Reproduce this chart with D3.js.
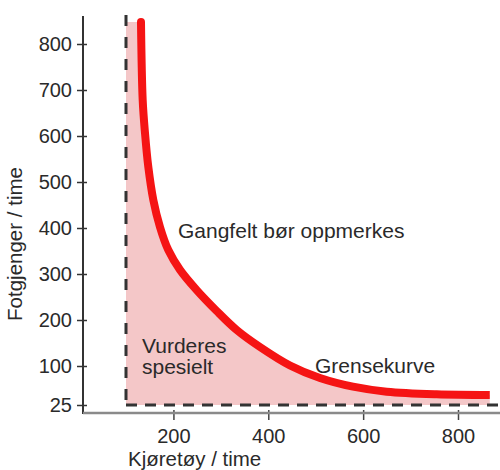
<!DOCTYPE html>
<html>
<head>
<meta charset="utf-8">
<script src="https://cdn.jsdelivr.net/npm/d3@7"></script>
<style>
  html, body { margin: 0; padding: 0; background: #fff; }
  svg { display: block; }
  text { font-family: "Liberation Sans", Arial, Helvetica, sans-serif; fill: #2a2a2a; }
</style>
</head>
<body>
<svg id="chart" width="500" height="470"></svg>
<script>
// ---- data ----
const curveX = [131.6, 135.2, 140.1, 147.0, 157.6, 171.7, 189.2, 213.9, 249.1, 291.2, 333.4, 382.5, 445.8, 509.0, 578.6, 649.7, 755.1, 867];
const curveY = [848, 678, 606, 533, 461, 402, 352, 309, 265, 219.6, 178.3, 141.3, 101.1, 76.9, 60.2, 50.6, 45.6, 44.2];
const xTicks = [200, 400, 600, 800];
const yTicks = [25, 100, 200, 300, 400, 500, 600, 700, 800];
const minVehicles = 100;
const minPedestrians = 25;
const labelAbove = "Gangfelt bør oppmerkes";
const labelBelow = ["Vurderes", "spesielt"];
const labelCurve = "Grensekurve";
const xTitle = "Kjøretøy / time";
const yTitle = "Fotgjenger / time";

// ---- layout ----
const svg = d3.select("#chart");
const axisX0 = 83, axisY0 = 413;
const x = d3.scaleLinear().domain([100, 800]).range([126, 458]);
const y = d3.scaleLinear().domain([25, 100, 800]).range([405, 366, 44]);

const pts = curveX.map((v, i) => [v, curveY[i]]);
const line = d3.line().x(d => x(d[0])).y(d => y(d[1])).curve(d3.curveCatmullRom.alpha(0.5));
const curvePath = line(pts);

// fill region
const last = pts[pts.length - 1];
const fillPath = "M" + x(minVehicles) + "," + y(pts[0][1]) + "L" + curvePath.slice(1) +
  "L" + x(last[0]) + "," + y(minPedestrians) + "L" + x(minVehicles) + "," + y(minPedestrians) + "Z";
svg.append("path").attr("d", fillPath).attr("fill", "#f4c7c8");

// dashed limits
svg.append("line")
  .attr("x1", x(minVehicles)).attr("x2", x(minVehicles))
  .attr("y1", 15).attr("y2", y(minPedestrians))
  .attr("stroke", "#333").attr("stroke-width", 3).attr("stroke-dasharray", "11,11");
svg.append("line")
  .attr("x1", x(minVehicles)).attr("x2", 500)
  .attr("y1", y(minPedestrians)).attr("y2", y(minPedestrians))
  .attr("stroke", "#333").attr("stroke-width", 3).attr("stroke-dasharray", "11,8");

// axes
const gy = svg.append("g").attr("transform", `translate(${axisX0},0)`)
  .call(d3.axisLeft(y).tickValues(yTicks).tickSize(6).tickPadding(5).tickFormat(d3.format("d")));
gy.select(".domain").remove();
gy.selectAll(".tick line").attr("x1", 4).attr("x2", -6).attr("stroke", "#333").attr("stroke-width", 1.5);
gy.selectAll(".tick text").attr("font-size", 20).attr("fill", "#2a2a2a")
  .attr("font-family", "Liberation Sans, Arial, sans-serif");

const gx = svg.append("g").attr("transform", `translate(0,${axisY0})`)
  .call(d3.axisBottom(x).tickValues(xTicks).tickSize(7).tickFormat(d3.format("d")));
gx.select(".domain").remove();
gx.selectAll(".tick line").attr("y1", -3).attr("y2", 7).attr("stroke", "#444").attr("stroke-width", 1.5);
gx.selectAll(".tick text").attr("font-size", 20).attr("fill", "#2a2a2a")
  .attr("y", 30).attr("dy", 0)
  .attr("font-family", "Liberation Sans, Arial, sans-serif");

svg.append("line").attr("x1", axisX0).attr("x2", axisX0).attr("y1", 16).attr("y2", axisY0 + 1)
  .attr("stroke", "#333").attr("stroke-width", 2);
svg.append("line").attr("x1", axisX0).attr("x2", 500).attr("y1", axisY0).attr("y2", axisY0)
  .attr("stroke", "#8a8a8a").attr("stroke-width", 2.5);

// boundary curve
svg.append("path").attr("d", curvePath).attr("fill", "none")
  .attr("stroke", "#f51414").attr("stroke-width", 8).attr("stroke-linecap", "butt");
svg.append("circle").attr("cx", x(pts[0][0])).attr("cy", y(pts[0][1])).attr("r", 4).attr("fill", "#f51414");

// labels
svg.append("text").attr("x", 178).attr("y", 238).attr("font-size", 21).text(labelAbove);
svg.append("text").attr("x", 142).attr("y", 353).attr("font-size", 21).text(labelBelow[0]);
svg.append("text").attr("x", 142).attr("y", 374).attr("font-size", 21).text(labelBelow[1]);
svg.append("text").attr("x", 315).attr("y", 373).attr("font-size", 21).text(labelCurve);
svg.append("text").attr("x", 128).attr("y", 466).attr("font-size", 20.5).text(xTitle);
svg.append("text").attr("transform", "translate(22,244) rotate(-90)")
  .attr("text-anchor", "middle").attr("font-size", 20.5).text(yTitle);
</script>
</body>
</html>
